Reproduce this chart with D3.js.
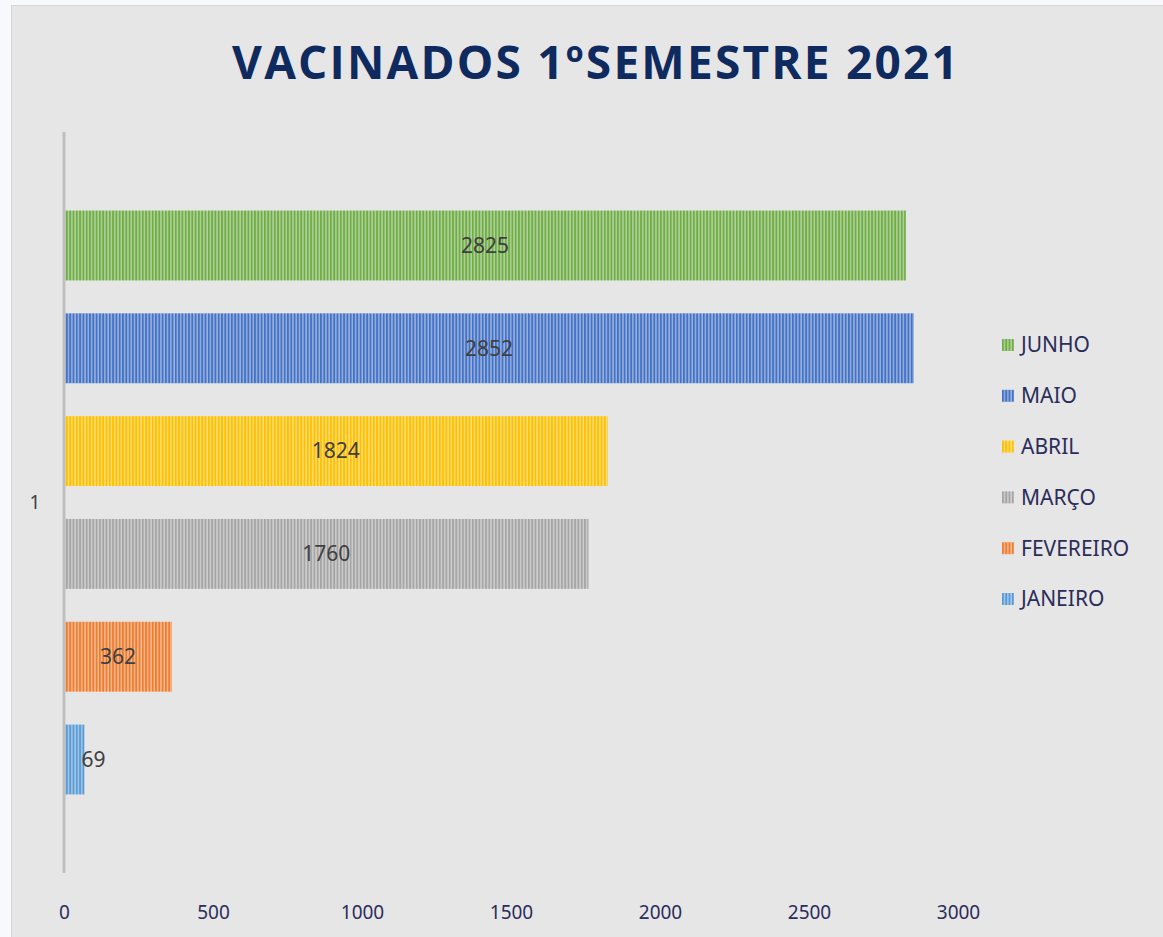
<!DOCTYPE html>
<html>
<head>
<meta charset="utf-8">
<script src="https://cdn.jsdelivr.net/npm/d3@7"></script>
<style>
  body { margin: 0; background: #f7f9fd; }
  svg { display: block; }
</style>
</head>
<body>
<div id="chart"></div>
<script>
// dados
var meses = ["JUNHO", "MAIO", "ABRIL", "MARÇO", "FEVEREIRO", "JANEIRO"];
var vacinados = [2825, 2852, 1824, 1760, 362, 69];
var cores = ["#70ad47", "#4472c4", "#ffc000", "#a5a5a5", "#ed7d31", "#5b9bd5"];
var categorias = ["1"];
var ticksX = [0, 500, 1000, 1500, 2000, 2500, 3000];

var width = 1163, height = 937;

var svg = d3.select("#chart").append("svg").attr("width", width).attr("height", height);

// area do grafico
svg.append("rect")
    .attr("x", 11.5).attr("y", 5.5)
    .attr("width", width - 11).attr("height", height - 5)
    .attr("fill", "#e6e6e6")
    .attr("stroke", "#d6d6d6");

// padroes listrados
var defs = svg.append("defs");
cores.forEach(function (c, i) {
    var p = defs.append("pattern")
        .attr("id", "listra" + i)
        .attr("patternUnits", "userSpaceOnUse")
        .attr("width", 3.3).attr("height", 10);
    p.append("rect").attr("width", 3.3).attr("height", 10).attr("fill", d3.interpolateRgb(c, "#ffffff")(0.45));
    p.append("rect").attr("width", 1.8).attr("height", 10).attr("fill", c);
});

var x = d3.scaleLinear().domain([0, 3000]).range([64, 958]);
var yCat = d3.scaleBand().domain(categorias).range([132, 873]);
var y = d3.scaleBand().domain(meses).range([132, 873]).paddingInner(0.32).paddingOuter(0.764);

// titulo
svg.append("text")
    .attr("x", 596).attr("y", 79)
    .attr("text-anchor", "middle")
    .attr("font-family", "Open Sans, sans-serif")
    .attr("font-weight", "bold")
    .attr("font-size", 46)
    .attr("letter-spacing", 2.2)
    .attr("fill", "#0e2a5e")
    .text("VACINADOS 1ºSEMESTRE 2021");

// barras
var barras = svg.selectAll(".barra")
    .data(meses)
    .enter().append("g")
    .attr("class", "barra");

barras.append("rect")
    .attr("x", x(0) + 1)
    .attr("y", function (d) { return y(d); })
    .attr("width", function (d, i) { return x(vacinados[i]) - x(0) - 1; })
    .attr("height", y.bandwidth())
    .attr("fill", function (d, i) { return "url(#listra" + i + ")"; });

barras.append("text")
    .attr("x", function (d, i) {
        var w = x(vacinados[i]) - x(0);
        return w < 40 ? x(vacinados[i]) - 3 : x(0) + w / 2;
    })
    .attr("y", function (d) { return y(d) + y.bandwidth() / 2; })
    .attr("dy", "0.35em")
    .attr("text-anchor", function (d, i) { return x(vacinados[i]) - x(0) < 40 ? "start" : "middle"; })
    .attr("font-family", "Noto Sans, sans-serif")
    .attr("font-size", 21)
    .attr("fill", "#404040")
    .text(function (d, i) { return vacinados[i]; });

// eixo vertical
svg.append("line")
    .attr("x1", x(0)).attr("x2", x(0))
    .attr("y1", 132).attr("y2", 873)
    .attr("stroke", "#bfbfbf").attr("stroke-width", 3);

svg.append("text")
    .attr("x", 35).attr("y", yCat("1") + yCat.bandwidth() / 2)
    .attr("dy", "0.35em")
    .attr("text-anchor", "middle")
    .attr("font-family", "Noto Sans, sans-serif")
    .attr("font-size", 19)
    .attr("fill", "#404040")
    .text("1");

// eixo horizontal (apenas rotulos)
var eixoX = svg.append("g")
    .attr("transform", "translate(0,900)")
    .call(d3.axisBottom(x).tickValues(ticksX).tickFormat(d3.format("d")).tickSize(0).tickPadding(0));
eixoX.select(".domain").remove();
eixoX.selectAll("text")
    .attr("dy", "0.35em")
    .attr("y", 12)
    .attr("font-family", "Noto Sans, sans-serif")
    .attr("font-size", 19)
    .attr("fill", "#2b2d5a");

// legenda
var legenda = svg.selectAll(".legenda")
    .data(meses)
    .enter().append("g")
    .attr("class", "legenda")
    .attr("transform", function (d, i) { return "translate(1002," + (345 + i * 50.8) + ")"; });

legenda.append("rect")
    .attr("x", 0).attr("y", -6)
    .attr("width", 12).attr("height", 12)
    .attr("fill", function (d, i) { return "url(#listra" + i + ")"; });

legenda.append("text")
    .attr("x", 19).attr("y", 0)
    .attr("dy", "0.35em")
    .attr("font-family", "Noto Sans, sans-serif")
    .attr("font-size", 21)
    .attr("fill", "#2b2d5a")
    .text(function (d) { return d; });
</script>
</body>
</html>
